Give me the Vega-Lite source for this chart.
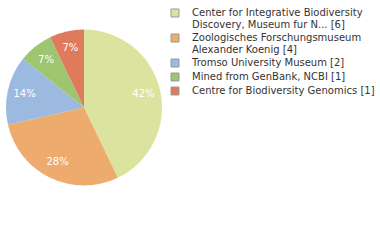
{
  "$schema": "https://vega.github.io/schema/vega-lite/v6.json",
  "autosize": "none",
  "width": 168,
  "height": 215,
  "padding": {"left": 0, "top": 0, "right": 212, "bottom": 25},
  "background": "white",
  "config": {"view": {"stroke": null}, "font": "DejaVu Sans"},
  "data": {"values": [
    {"idx": 1, "name": "Center for Integrative Biodiversity|Discovery, Museum fur N... [6]", "count": 6, "pct": "42%"},
    {"idx": 2, "name": "Zoologisches Forschungsmuseum|Alexander Koenig [4]", "count": 4, "pct": "28%"},
    {"idx": 3, "name": "Tromso University Museum [2]", "count": 2, "pct": "14%"},
    {"idx": 4, "name": "Mined from GenBank, NCBI [1]", "count": 1, "pct": "7%"},
    {"idx": 5, "name": "Centre for Biodiversity Genomics [1]", "count": 1, "pct": "7%"}
  ]},
  "encoding": {
    "theta": {"field": "count", "type": "quantitative", "stack": true},
    "order": {"field": "idx", "type": "quantitative"}
  },
  "layer": [
    {
      "mark": {"type": "arc", "outerRadius": 78},
      "encoding": {
        "color": {
          "field": "name", "type": "nominal",
          "sort": {"field": "idx"},
          "scale": {
            "domain": ["Center for Integrative Biodiversity|Discovery, Museum fur N... [6]", "Zoologisches Forschungsmuseum|Alexander Koenig [4]", "Tromso University Museum [2]", "Mined from GenBank, NCBI [1]", "Centre for Biodiversity Genomics [1]"],
            "range": ["#dce39e", "#eeab6e", "#9cb9e0", "#9ec56f", "#e07a5c"]
          },
          "legend": {
            "title": null,
            "orient": "none",
            "legendX": 170,
            "legendY": 8,
            "symbolType": "square",
            "symbolSize": 64,
            "symbolStrokeColor": "#999999",
            "symbolStrokeWidth": 1,
            "symbolOpacity": 1,
            "labelFontSize": 10,
            "labelColor": "#333333",
            "labelLimit": 300,
            "labelOffset": 12,
            "rowPadding": 2,
            "labelExpr": "split(datum.label, '|')"
          }
        }
      }
    },
    {
      "mark": {"type": "text", "radius": 61, "color": "white", "fontSize": 10},
      "encoding": {"text": {"field": "pct"}}
    }
  ]
}
